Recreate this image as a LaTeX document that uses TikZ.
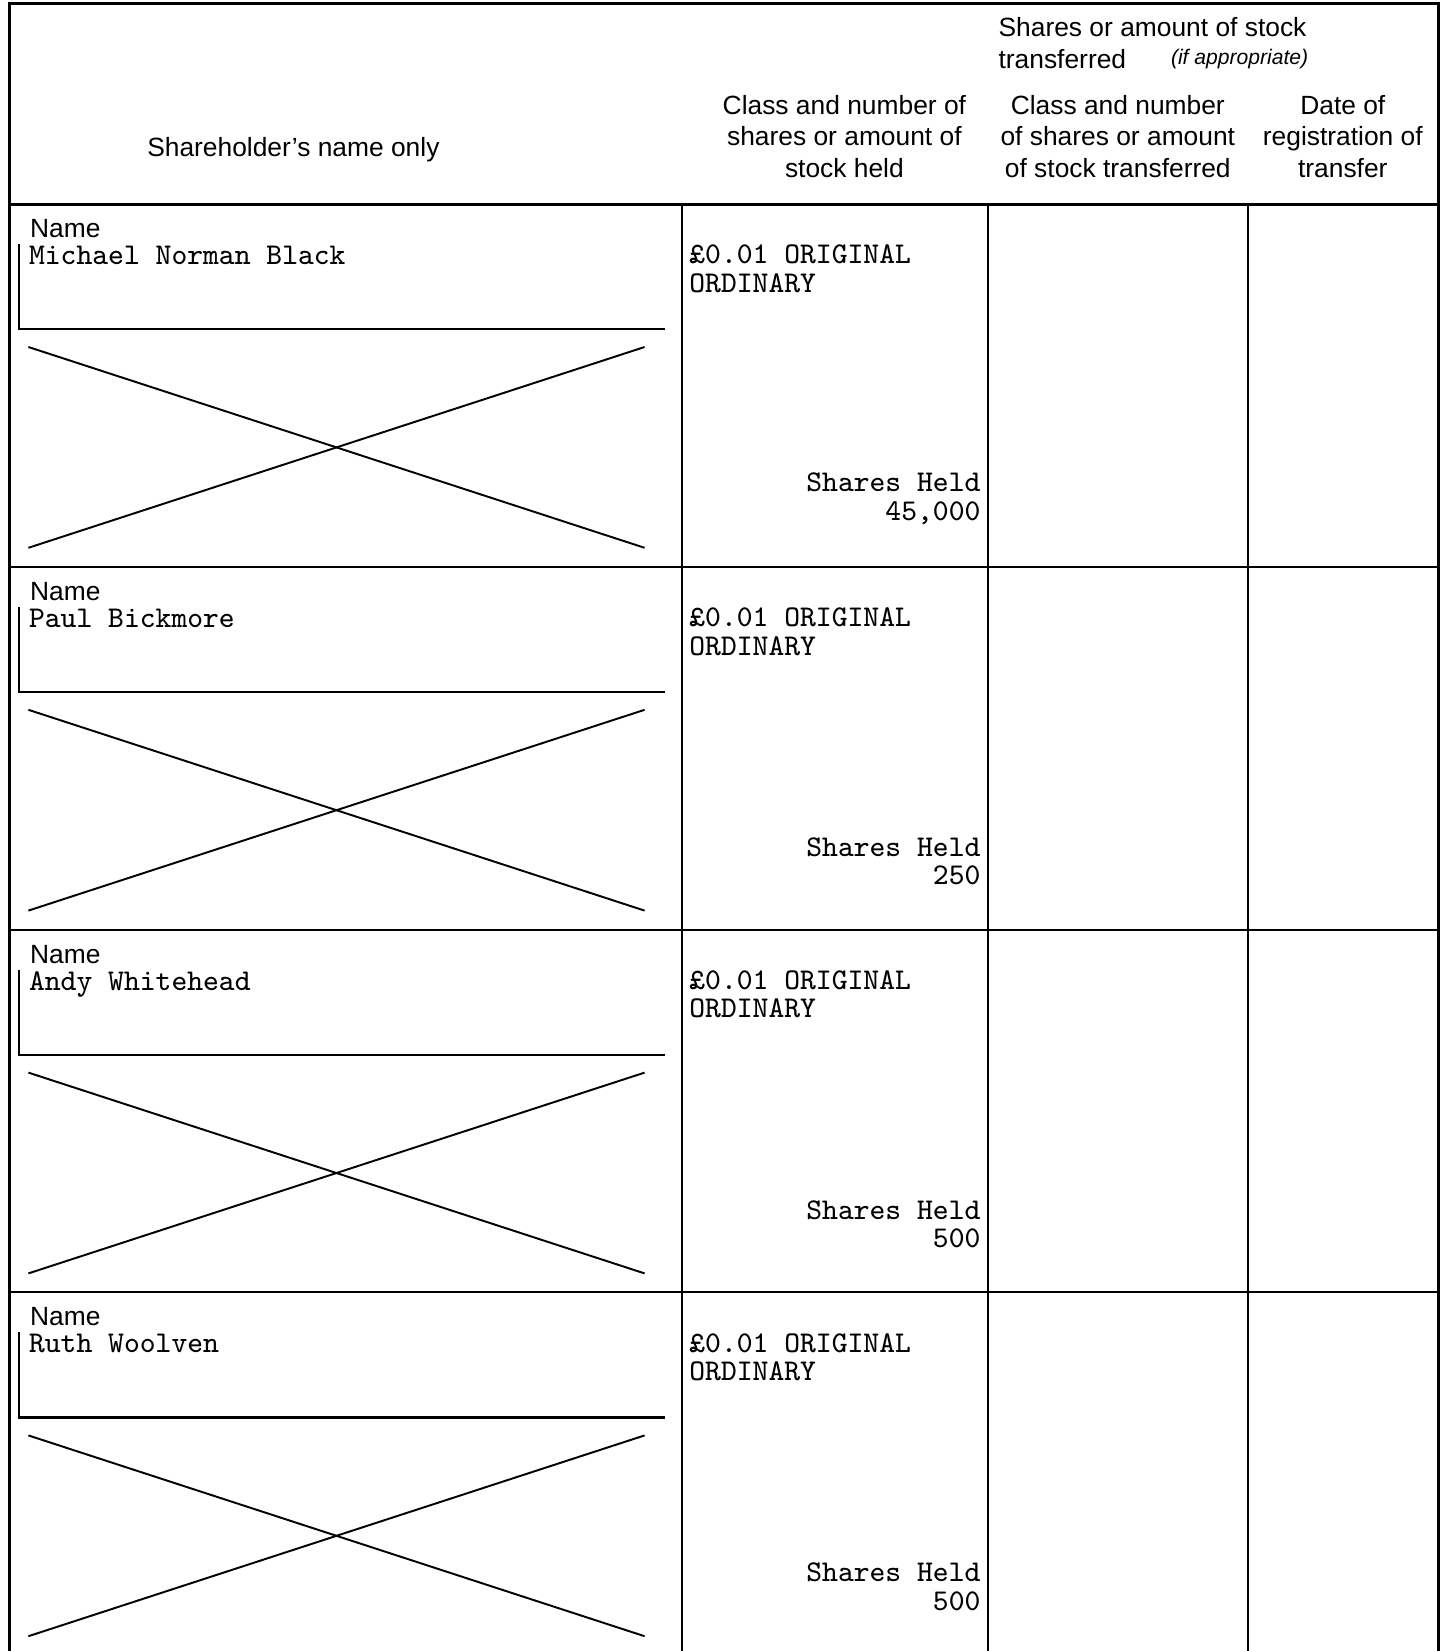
\documentclass[tikz,border=0pt]{standalone}
\usepackage{fontspec}
\setmainfont{Liberation Sans}
\usetikzlibrary{positioning}

\begin{document}
\begin{tikzpicture}[x=0.01cm, y=-0.01cm,
		hdr/.style={font=\fontsize{7.5}{9}\selectfont, align=center, inner sep=0},
		lbl/.style={font=\fontsize{7.5}{9}\selectfont, anchor=west, inner sep=0},
		typed/.style={font=\ttfamily\fontsize{8.57}{8.1}\selectfont, inner sep=0},
		frame/.style={line width=0.85pt},
		rule/.style={line width=0.6pt},
		cross/.style={line width=0.55pt}]
		\useasboundingbox (0,0) rectangle (1449,1651);
		% Outer frame and header rule
		\draw[frame] (9.5,1651) -- (9.5,3.5) -- (1438.5,3.5) -- (1438.5,1651);
		\draw[frame] (9.5,204) -- (1438.5,204);
		% Column rules
		\draw[rule] (682.4,204) -- (682.4,1651);
		\draw[rule] (988.4,204) -- (988.4,1651);
		\draw[rule] (1248.2,204) -- (1248.2,1651);
		
		% Header texts
		\node[hdr] (hname) at (293.4,149.3) {Shareholder's name only};
		\node[hdr] (hheld) at (844.4,136.5) {Class and number of\\shares or amount of\\stock held};
		\node[lbl] (hstock) at (997.9,27.3) {Shares or amount of stock};
		\node[lbl] (htrf) at (997.9,58.9) {transferred};
		\node[lbl, font=\itshape\fontsize{6}{7}\selectfont] (hif) at (1170.3,58.9) {(if appropriate)};
		\node[hdr] (hclass) at (1117.8,136.5) {Class and number\\of shares or amount\\of stock transferred};
		\node[hdr] (hdate) at (1342.8,136.5) {Date of\\registration of\\transfer};
		
		% One block per shareholder
		\foreach \i/\who/\num in {0/Michael Norman Black/{45,000}, 1/Paul Bickmore/250, 2/Andy Whitehead/500, 3/Ruth Woolven/500} {
			\pgfmathsetmacro{\rowtop}{204+362.8*\i}
			\ifnum\i>0
				\draw[rule] (9.5,\rowtop) -- (1438.5,\rowtop);
			\fi
			\node[lbl] (name\i) at (29.4,\rowtop+24.5) {Name};
			\node[typed, anchor=base west] (who\i) at (28.4,\rowtop+60.5) {\who};
			\draw[rule] (18.9,\rowtop+40) -- (18.9,\rowtop+125.1) -- (664.6,\rowtop+125.1);
			% Crossed out box
			\draw[cross] (28.4,\rowtop+143) -- (644.6,\rowtop+343.8);
			\draw[cross] (28.4,\rowtop+343.8) -- (644.6,\rowtop+143);
			\node[typed, anchor=west, align=left] (cls\i) at (688.7,\rowtop+64.7) {£0.01 ORIGINAL\\ORDINARY};
			\node[typed, anchor=east, align=right] (held\i) at (981.1,\rowtop+294.5) {Shares Held\\\num};
		}
	\end{tikzpicture}
\end{document}
